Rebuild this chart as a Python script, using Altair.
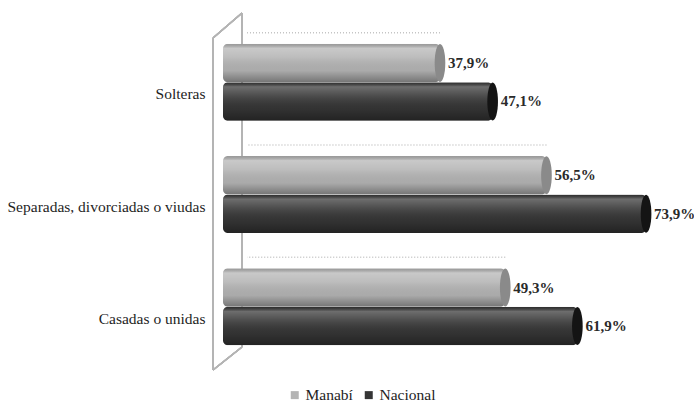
import altair as alt
import pandas as pd

categories = ["Solteras", "Separadas, divorciadas o viudas", "Casadas o unidas"]
series = ["Manabí", "Nacional"]
manabi = [37.9, 56.5, 49.3]
nacional = [47.1, 73.9, 61.9]
colors = ["#b4b4b4", "#353535"]
cap_colors = ["#8a8a8a", "#141414"]

rows = []
for c, m, n in zip(categories, manabi, nacional):
    rows.append({"categoria": c, "serie": series[0], "valor": m})
    rows.append({"categoria": c, "serie": series[1], "valor": n})
df = pd.DataFrame(rows)

W, H = 458, 337
FONT = "Liberation Serif"

base = alt.Chart(df).transform_calculate(
    etiqueta="replace(format(datum.valor, '.1f'), '.', ',') + '%'"
)

y_enc = alt.Y(
    "categoria:N",
    sort=categories,
    scale=alt.Scale(paddingInner=0.314, paddingOuter=0.157),
    axis=alt.Axis(
        title=None, domain=False, ticks=False, tickSize=0, labelPadding=18,
        labelOffset=12,
        labelFont=FONT, labelFontSize=15.5, labelColor="#1e1e1e", labelLimit=400,
    ),
)
y_top = alt.Y("categoria:N", sort=categories, bandPosition=0)
yoff = alt.YOffset("serie:N", sort=series, scale=alt.Scale(paddingInner=0, paddingOuter=0))
x_enc = alt.X("valor:Q", scale=alt.Scale(domain=[0, 80], nice=False, zero=True), axis=None)

wall_color = "#b4b4b4"
wall = [
    alt.Chart(df).mark_rule(color=wall_color, strokeWidth=1.5).encode(
        x=alt.value(-10), x2=alt.value(-10), y=alt.value(12), y2=alt.value(344)),
    alt.Chart(df).mark_rule(color=wall_color, strokeWidth=1.5).encode(
        x=alt.value(19), x2=alt.value(19), y=alt.value(-13), y2=alt.value(321)),
    alt.Chart(df).mark_rule(color=wall_color, strokeWidth=1.5).encode(
        x=alt.value(-10), x2=alt.value(19), y=alt.value(12), y2=alt.value(-13)),
    alt.Chart(df).mark_rule(color=wall_color, strokeWidth=1.5).encode(
        x=alt.value(-10), x2=alt.value(19), y=alt.value(344), y2=alt.value(321)),
]

shadow = base.transform_filter(alt.datum.serie == series[0]).mark_rule(
    color="#c4c4c4", strokeDash=[1, 2], strokeWidth=1.5, yOffset=-11
).encode(x=x_enc, x2=alt.datum(4.2), y=y_top)

bars = base.mark_bar(cornerRadius=5).encode(
    x=x_enc, y=y_enc, yOffset=yoff,
    color=alt.Color(
        "serie:N", sort=series,
        scale=alt.Scale(domain=series, range=colors),
        legend=alt.Legend(
            title=None, orient="none", legendX=64, legendY=361, direction="horizontal",
            symbolType="square", symbolSize=64, symbolStrokeWidth=0,
            labelFont=FONT, labelFontSize=15.5,
            labelColor="#1e1e1e", labelOffset=3, columnPadding=8,
        ),
    ),
)

shine = base.mark_bar(
    cornerRadius=5,
    fill={
        "gradient": "linear", "x1": 0, "y1": 0, "x2": 0, "y2": 1,
        "stops": [
            {"offset": 0, "color": "rgba(0,0,0,0.15)"},
            {"offset": 0.12, "color": "rgba(255,255,255,0.28)"},
            {"offset": 0.35, "color": "rgba(255,255,255,0.12)"},
            {"offset": 0.7, "color": "rgba(0,0,0,0.05)"},
            {"offset": 1, "color": "rgba(0,0,0,0.35)"},
        ],
    },
).encode(x=x_enc, y=y_enc, yOffset=yoff)

caps = base.mark_point(
    shape="M0,-1A0.28,1 0 1,1 0,1A0.28,1 0 1,1 0,-1Z",
    filled=True, size=1444, opacity=1,
).encode(
    x=x_enc, y=y_enc, yOffset=yoff,
    fill=alt.Fill("serie:N", sort=series,
                  scale=alt.Scale(domain=series, range=cap_colors), legend=None),
)

labels = base.mark_text(
    align="left", baseline="middle", dx=8, font=FONT, fontSize=15,
    fontWeight="bold", color="#2a2a2a",
).encode(x=x_enc, y=y_enc, yOffset=yoff, text="etiqueta:N")

chart = alt.layer(*wall, shadow, bars, shine, caps, labels).resolve_scale(
    color="independent", fill="independent"
).properties(
    width=W, height=H,
    padding={"left": 223, "top": 26, "right": 13, "bottom": 42},
    autosize=alt.AutoSizeParams(type="none"),
    background="white",
).configure_view(stroke=None)

chart.save("out.html", embed_options={"renderer": "svg", "actions": False})
